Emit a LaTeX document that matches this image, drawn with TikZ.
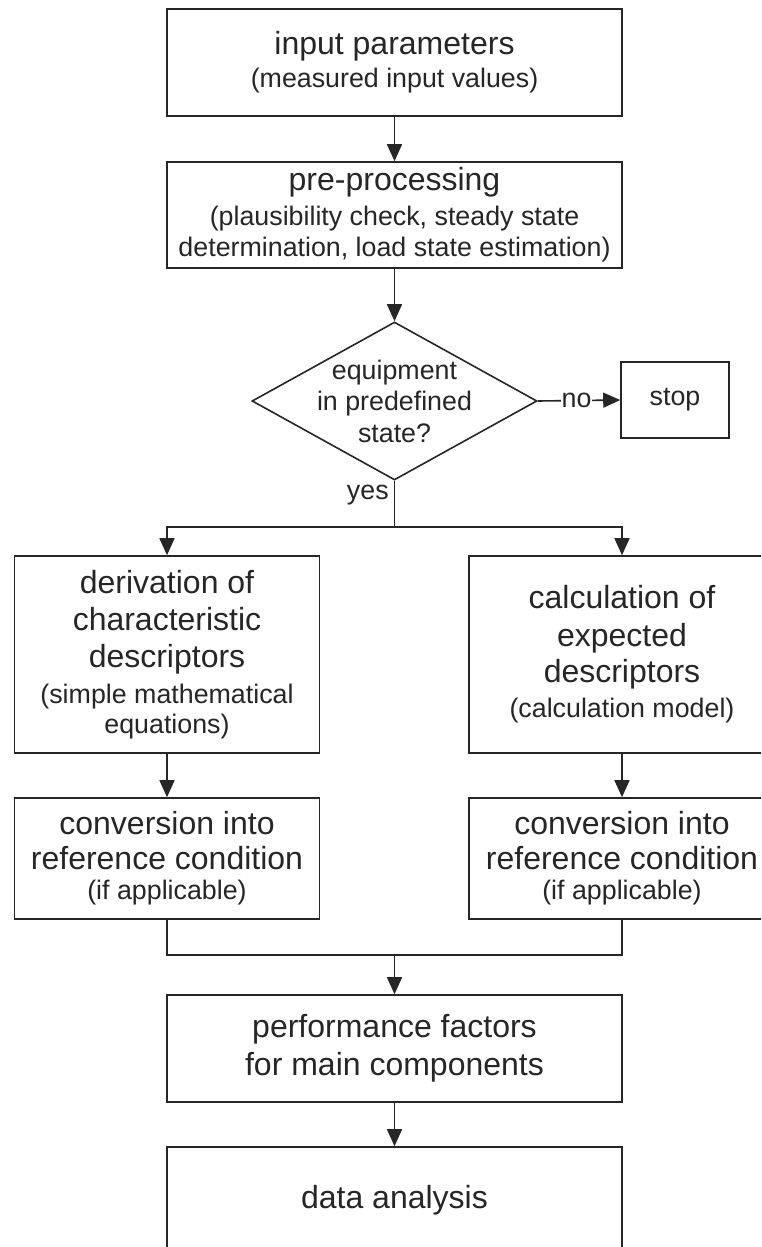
\documentclass[tikz,border=0pt]{standalone}
\usepackage{fontspec}
\setmainfont{Liberation Sans}
\usetikzlibrary{shapes.geometric,arrows.meta}
\definecolor{ink}{HTML}{262626}
\newcommand{\mainsz}{\fontsize{32}{31}\selectfont}
\newcommand{\subsz}{\fontsize{26.8}{31}\selectfont}
\tikzset{
  box/.style={draw=ink, line width=1.6pt, rectangle, inner sep=0pt, align=center, text=ink, font=\subsz},
  conn/.style={draw=ink, line width=1.6pt},
  arr/.style={conn, -{Triangle[length=17pt,width=15pt]}},
  lbl/.style={text=ink, font=\subsz, inner sep=1pt}
}
\begin{document}
\begin{tikzpicture}[x=1pt,y=-1pt]
\useasboundingbox (0,0) rectangle (761,1247);
\clip (0,0) rectangle (761,1247);
\fill[white] (0,0) rectangle (761,1247);

\node[box, minimum width=455pt, minimum height=107pt] (inp) at (394.5,62.5)
  {\mainsz input parameters\\[2pt]\subsz (measured input values)};
\node[box, minimum width=455pt, minimum height=106pt] (pre) at (394.5,215)
  {\mainsz pre-processing\\[4pt]\subsz (plausibility check, steady state\\\subsz determination, load state estimation)};
\node[diamond, draw=ink, line width=1.6pt, minimum width=285pt, minimum height=158pt, inner sep=0pt] (dec) at (394.5,401) {};
\node[text=ink, align=center, font=\subsz, inner sep=0pt] (dectext) at (dec.center) {equipment\\[0.5pt]in predefined\\[0.5pt]state?};
\node[box, minimum width=108pt, minimum height=76pt] (stop) at (675,400) {stop};

\node[box, minimum width=305pt, minimum height=197pt] (der) at (167,654.5)
  {\mainsz derivation of\\[6pt]\mainsz characteristic\\[6pt]\mainsz descriptors\\[5pt]\subsz (simple mathematical\\[-1pt]\subsz equations)};
\node[box, minimum width=306pt, minimum height=197pt] (calc) at (622,654.5)
  {\mainsz calculation of\\[7pt]\mainsz expected\\[5pt]\mainsz descriptors\\[4pt]\subsz (calculation model)};
\node[box, minimum width=305pt, minimum height=121pt] (convl) at (167,858.5)
  {\mainsz conversion into\\[4pt]\mainsz reference condition\\[-1pt]\subsz (if applicable)};
\node[box, minimum width=306pt, minimum height=121pt] (convr) at (622,858.5)
  {\mainsz conversion into\\[4pt]\mainsz reference condition\\[-1pt]\subsz (if applicable)};
\node[box, minimum width=455pt, minimum height=107pt] (perf) at (394.5,1048.5)
  {\mainsz performance factors\\[7pt]\mainsz for main components};
\node[box, minimum width=455pt, minimum height=107pt] (data) at (394.5,1200.5)
  {\mainsz data analysis};

\coordinate (split) at (394.5,527);
\coordinate (merge) at (394.5,955);

\draw[arr] (inp.south) -- (pre.north);
\draw[arr] (pre.south) -- (dec.north);
\draw[arr] (dec.east) -- node[lbl, fill=white, pos=0.47] (no) {no} (stop.west);
\draw[conn] (dec.south) -- node[lbl, left=4pt, pos=0.3] (yes) {yes} (split);
\draw[arr] (split) -| (der.north);
\draw[arr] (split) -| (calc.north);
\draw[arr] (der.south) -- (convl.north);
\draw[arr] (calc.south) -- (convr.north);
\draw[conn] (convl.south) |- (merge) -| (convr.south);
\draw[arr] (merge) -- (perf.north);
\draw[arr] (perf.south) -- (data.north);
\end{tikzpicture}
\end{document}
